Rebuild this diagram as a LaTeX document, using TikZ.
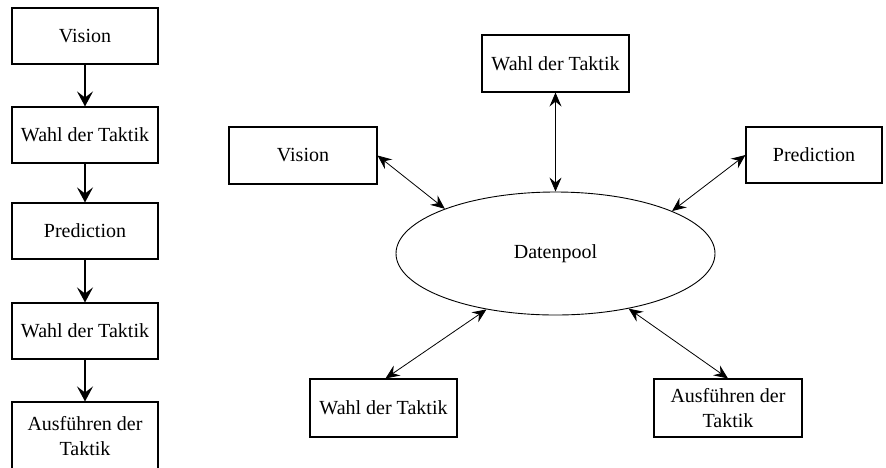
\documentclass[tikz,border=0pt]{standalone}
\usepackage{fontspec}
\setmainfont{Liberation Serif}
\usetikzlibrary{arrows.meta,shapes.geometric}
\begin{document}
\begin{tikzpicture}[x=1pt,y=-1pt,
  box/.style={draw, line width=1.1pt, inner sep=0pt, align=center,
    font=\fontsize{20}{25}\selectfont},
  flow/.style={line width=1.4pt, -{Stealth[length=15pt,width=16pt,inset=6pt]}},
  link/.style={line width=0.8pt, {Stealth[length=14pt,width=12pt,inset=5pt]}-{Stealth[length=14pt,width=12pt,inset=5pt]}},
  pool/.style={draw, ellipse, line width=0.9pt, inner sep=0pt, minimum width=319pt, minimum height=123pt,
    font=\fontsize{20}{25}\selectfont}]
\useasboundingbox (0,0) rectangle (886,467);
\clip (0,0) rectangle (886,467);
% left column
\node[box, minimum width=146pt, minimum height=56pt] (l1) at (85,36) {Vision};
\node[box, minimum width=146pt, minimum height=56pt] (l2) at (85,135) {Wahl der Taktik};
\node[box, minimum width=146pt, minimum height=56pt] (l3) at (85,231) {Prediction};
\node[box, minimum width=146pt, minimum height=56pt] (l4) at (85,331) {Wahl der Taktik};
\node[box, minimum width=146pt, minimum height=68pt] (l5) at (85,436) {Ausführen der\\Taktik};
\draw[flow] (l1) -- (l2);
\draw[flow] (l2) -- (l3);
\draw[flow] (l3) -- (l4);
\draw[flow] (l4) -- (l5);
% right diagram
\node[pool] (dp) at (555.5,253.5) {Datenpool};
\node[box, minimum width=147pt, minimum height=57pt] (top) at (555.5,63.5) {Wahl der Taktik};
\node[box, minimum width=148pt, minimum height=57pt] (vis) at (303,155.5) {Vision};
\node[box, minimum width=136pt, minimum height=56pt] (pre) at (814,155) {Prediction};
\node[box, minimum width=147pt, minimum height=58pt] (bl) at (383.5,408) {Wahl der Taktik};
\node[box, minimum width=148pt, minimum height=58pt] (br) at (728,408) {Ausführen der\\Taktik};
\draw[link] (top) -- (dp.90);
\draw[link] (vis.east) -- (dp.158.7);
\draw[link] (pre.west) -- (dp.20.2);
\draw[link] ([xshift=2pt]bl.north) -- (dp.-141.7);
\draw[link] (br.north) -- (dp.-37.4);
\end{tikzpicture}
\end{document}
